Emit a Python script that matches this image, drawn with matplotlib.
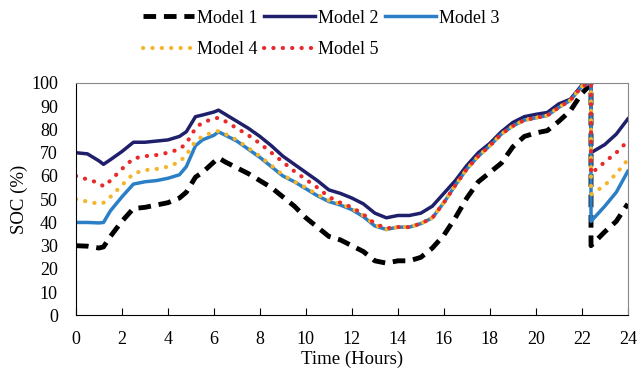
import matplotlib.pyplot as plt

plt.rcParams['font.family'] = ['Liberation Serif', 'DejaVu Serif']

hours = [0, 0.5, 1.0, 1.2, 1.5, 2.0, 2.5, 3.0, 3.5, 4.0, 4.5, 4.8, 5.2, 5.5, 6.0, 6.2,
         6.5, 7.0, 7.5, 8.0, 8.5, 9.0, 9.5, 10.0, 10.5, 11.0, 11.5, 12.0, 12.5, 13.0,
         13.5, 14.0, 14.5, 15.0, 15.5, 16.0, 16.5, 17.0, 17.5, 18.0, 18.5, 19.0, 19.5,
         20.0, 20.5, 21.0, 21.5, 22.0, 22.4, 22.4, 23.0, 23.5, 24.0]

model1 = [30, 29.8, 29, 29.5, 34, 40.5, 46, 46.5, 47.5, 48.5, 50.5, 53, 59.5, 61.5, 66, 67.8,
          66, 63.5, 61, 58, 55, 51, 47, 42, 38, 34, 32.5, 30, 27.5, 23.5,
          22.5, 23.5, 23.5, 25, 29, 34.5, 42, 50.5, 57.5, 61.5, 65.5, 72.5, 77,
          78.5, 79.5, 83.5, 88, 95.5, 99.5, 30, 36, 40.5, 48]
model2 = [70, 69.5, 66.5, 65, 67, 70.5, 74.5, 74.5, 75, 75.5, 77, 79, 85.5, 86.2, 87.5, 88.3,
          86.5, 83.5, 80.5, 77, 73, 68.5, 65, 61.5, 58, 54, 52.5, 50.5, 48, 44,
          42, 43, 43, 44, 47, 52.5, 58, 64.5, 70, 74, 79, 83, 85.5,
          86.5, 87.3, 91, 93, 99, 100, 70, 73.5, 78, 84.5]
model3 = [40, 40, 39.8, 40, 45, 51, 56.5, 57.5, 58, 59, 60.5, 64, 73, 75.5, 77.5, 79,
          77.5, 75, 71.5, 68, 64, 60, 57.5, 54.5, 51.5, 49, 47.5, 45.5, 42.5, 38.5,
          37, 38, 38, 39.5, 42, 48.5, 56, 63, 68.5, 73, 78, 81.5, 84,
          85, 86, 89.5, 92.5, 98.5, 100, 40.5, 47, 53, 62]
model4 = [50, 49, 48, 48.5, 51, 56, 61, 62.5, 63, 64, 66, 69, 75, 77, 79, 79.3,
          78, 75.5, 72, 68.5, 64.5, 60.5, 57.5, 55, 52, 49.5, 48, 46, 43, 39,
          37, 38, 38, 39.5, 42, 48.5, 56, 63, 68.5, 73, 78, 81.5, 84,
          85, 86, 89.5, 92.5, 98.5, 100, 52, 56, 61, 67]
model5 = [60, 58.5, 57, 55.5, 58, 63, 67.5, 68.5, 69, 70, 71.5, 74, 80.5, 83, 84.7, 85,
          83.5, 80.5, 77.5, 74, 70, 66, 62, 58.5, 55, 51, 48.5, 46.5, 43.5, 39.5,
          37.5, 38, 38, 39.5, 42, 48.5, 56, 63, 68.5, 73, 78, 81.5, 84,
          85, 86, 89.5, 92.5, 98.5, 100, 61, 66, 70, 75]

fig = plt.figure(figsize=(6.38, 3.72), dpi=100)
ax = fig.add_axes([0.119, 0.152, 0.865, 0.625])

l1, = ax.plot(hours, model1, color='black', lw=3.5, linestyle=(0, (2.6, 1.6)), label='Model 1')
l2, = ax.plot(hours, model2, color='#1f1f6b', lw=2.5, label='Model 2')
l3, = ax.plot(hours, model3, color='#2a7fc6', lw=2.5, label='Model 3')
l4, = ax.plot(hours, model4, color='#f4b52a', lw=3, linestyle=(0, (0.05, 2.2)),
              dash_capstyle='round', label='Model 4')
l5, = ax.plot(hours, model5, color='#e82a2a', lw=3, linestyle=(0, (0.05, 2.2)),
              dash_capstyle='round', label='Model 5')

ax.set_xlim(0, 24)
ax.set_ylim(0, 100)
ax.set_xticks(range(0, 25, 2))
ax.set_yticks(range(0, 101, 10))
ax.tick_params(axis='x', direction='in', length=5, labelsize=13, pad=11)
ax.tick_params(axis='y', length=0, labelsize=13, pad=13)
ax.set_xlabel('Time (Hours)', fontsize=13.5, labelpad=2)
ax.set_ylabel('SOC (%)', fontsize=13.5, labelpad=2)
for s in ['top', 'right']:
    ax.spines[s].set_color('#888888')

# row-wise order: Model 1,2,3 on top row, 4,5 below
handles = [l1, l4, l2, l5, l3]
fig.legend(handles, [h.get_label() for h in handles], loc='upper left',
           bbox_to_anchor=(0.199, 1.018), ncol=3, frameon=False,
           fontsize=13, handlelength=2.8, handletextpad=0.2, columnspacing=0.35,
           labelspacing=0.8)

plt.savefig('out.png')
